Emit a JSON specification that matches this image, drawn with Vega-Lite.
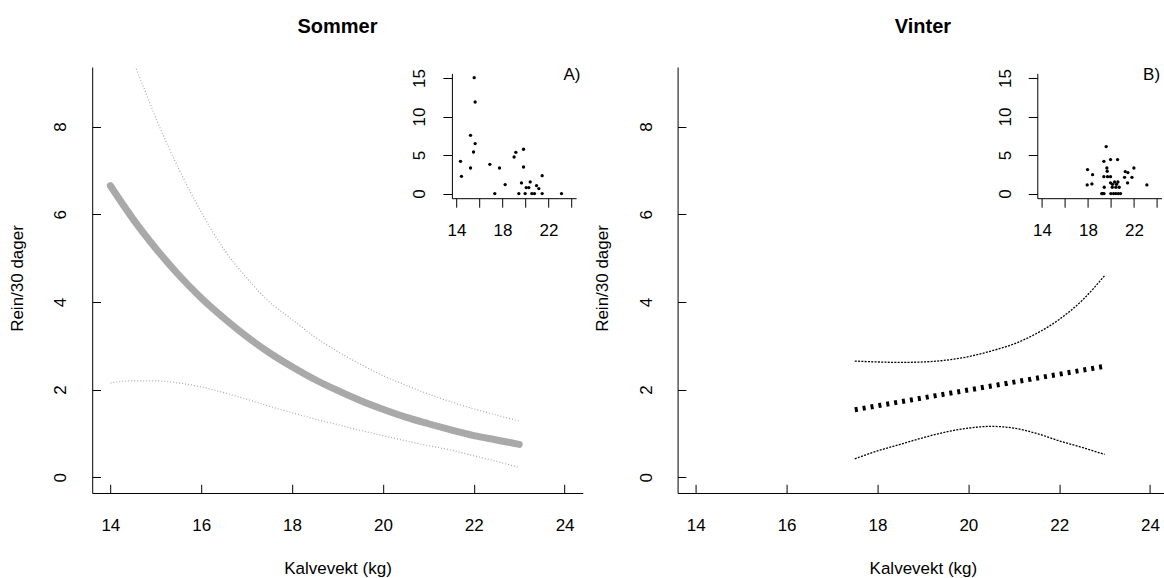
{
  "$schema": "https://vega.github.io/schema/vega-lite/v6.json",
  "background": "white",
  "padding": {"left": 8.2, "top": 16, "right": 0, "bottom": 0},
  "config": {
    "view": {"stroke": null},
    "font": "Liberation Sans",
    "axis": {"grid": false, "domainColor": "black", "tickColor": "black", "labelColor": "black", "titleColor": "black", "labelFont": "Liberation Sans", "titleFont": "Liberation Sans", "labelFontSize": 17, "titleFontSize": 17, "titleFontWeight": "normal", "labelOverlap": false, "labelFlush": false, "labelBound": false, "domainWidth": 1, "tickWidth": 1},
    "title": {"font": "Liberation Sans", "fontSize": 20, "fontWeight": "bold", "color": "black", "offset": 29.4, "baseline": "middle", "frame": "group", "anchor": "middle"}
  },
  "datasets": {
    "s_fit": [
      {"x": 14, "y": 6.65}, {"x": 14.5, "y": 5.89}, {"x": 15, "y": 5.22}, {"x": 15.5, "y": 4.62}, {"x": 16, "y": 4.09}, {"x": 16.5, "y": 3.63}, {"x": 17, "y": 3.21}, {"x": 17.5, "y": 2.84}, {"x": 18, "y": 2.52}, {"x": 18.5, "y": 2.23}, {"x": 19, "y": 1.98}, {"x": 19.5, "y": 1.75}, {"x": 20, "y": 1.55}, {"x": 20.5, "y": 1.37}, {"x": 21, "y": 1.22}, {"x": 21.5, "y": 1.08}, {"x": 22, "y": 0.95}, {"x": 22.5, "y": 0.85}, {"x": 23, "y": 0.75}
    ],
    "s_ci": [
      {"band": "upper", "x": 14, "y": 11.0}, {"band": "upper", "x": 14.25, "y": 10.2}, {"band": "upper", "x": 14.5, "y": 9.5}, {"band": "upper", "x": 14.75, "y": 8.85}, {"band": "upper", "x": 15, "y": 8.2}, {"band": "upper", "x": 15.5, "y": 7.05}, {"band": "upper", "x": 16, "y": 6.05}, {"band": "upper", "x": 16.5, "y": 5.2}, {"band": "upper", "x": 17, "y": 4.55}, {"band": "upper", "x": 17.5, "y": 4.0}, {"band": "upper", "x": 18, "y": 3.6}, {"band": "upper", "x": 18.5, "y": 3.2}, {"band": "upper", "x": 19, "y": 2.87}, {"band": "upper", "x": 19.5, "y": 2.58}, {"band": "upper", "x": 20, "y": 2.32}, {"band": "upper", "x": 20.5, "y": 2.1}, {"band": "upper", "x": 21, "y": 1.9}, {"band": "upper", "x": 21.5, "y": 1.72}, {"band": "upper", "x": 22, "y": 1.56}, {"band": "upper", "x": 22.5, "y": 1.42}, {"band": "upper", "x": 23, "y": 1.28},
      {"band": "lower", "x": 14, "y": 2.15}, {"band": "lower", "x": 14.5, "y": 2.2}, {"band": "lower", "x": 15, "y": 2.2}, {"band": "lower", "x": 15.5, "y": 2.15}, {"band": "lower", "x": 16, "y": 2.06}, {"band": "lower", "x": 16.5, "y": 1.93}, {"band": "lower", "x": 17, "y": 1.78}, {"band": "lower", "x": 17.5, "y": 1.62}, {"band": "lower", "x": 18, "y": 1.47}, {"band": "lower", "x": 18.5, "y": 1.33}, {"band": "lower", "x": 19, "y": 1.2}, {"band": "lower", "x": 19.5, "y": 1.07}, {"band": "lower", "x": 20, "y": 0.95}, {"band": "lower", "x": 20.5, "y": 0.83}, {"band": "lower", "x": 21, "y": 0.72}, {"band": "lower", "x": 21.5, "y": 0.62}, {"band": "lower", "x": 22, "y": 0.49}, {"band": "lower", "x": 22.5, "y": 0.36}, {"band": "lower", "x": 23, "y": 0.22}
    ],
    "v_fit": [
      {"x": 17.5, "y": 1.54}, {"x": 18, "y": 1.63}, {"x": 18.5, "y": 1.72}, {"x": 19, "y": 1.81}, {"x": 19.5, "y": 1.9}, {"x": 20, "y": 1.99}, {"x": 20.5, "y": 2.08}, {"x": 21, "y": 2.17}, {"x": 21.5, "y": 2.26}, {"x": 22, "y": 2.35}, {"x": 22.5, "y": 2.44}, {"x": 23, "y": 2.53}
    ],
    "v_ci": [
      {"band": "upper", "x": 17.5, "y": 2.65}, {"band": "upper", "x": 18, "y": 2.63}, {"band": "upper", "x": 18.5, "y": 2.62}, {"band": "upper", "x": 19, "y": 2.63}, {"band": "upper", "x": 19.5, "y": 2.67}, {"band": "upper", "x": 20, "y": 2.75}, {"band": "upper", "x": 20.5, "y": 2.88}, {"band": "upper", "x": 21, "y": 3.04}, {"band": "upper", "x": 21.5, "y": 3.28}, {"band": "upper", "x": 22, "y": 3.6}, {"band": "upper", "x": 22.5, "y": 4.03}, {"band": "upper", "x": 23, "y": 4.6},
      {"band": "lower", "x": 17.5, "y": 0.42}, {"band": "lower", "x": 18, "y": 0.6}, {"band": "lower", "x": 18.5, "y": 0.75}, {"band": "lower", "x": 19, "y": 0.9}, {"band": "lower", "x": 19.5, "y": 1.03}, {"band": "lower", "x": 20, "y": 1.12}, {"band": "lower", "x": 20.5, "y": 1.16}, {"band": "lower", "x": 21, "y": 1.12}, {"band": "lower", "x": 21.5, "y": 1.0}, {"band": "lower", "x": 22, "y": 0.83}, {"band": "lower", "x": 22.5, "y": 0.68}, {"band": "lower", "x": 23, "y": 0.52}
    ],
    "s_pts": [
      {"x": 14.35, "y": 4.19}, {"x": 14.43, "y": 2.24}, {"x": 15.22, "y": 7.56}, {"x": 15.22, "y": 3.32}, {"x": 15.54, "y": 15.05}, {"x": 15.62, "y": 11.89}, {"x": 15.62, "y": 6.49}, {"x": 15.48, "y": 5.4}, {"x": 16.9, "y": 3.8}, {"x": 17.74, "y": 3.32}, {"x": 17.33, "y": 0}, {"x": 18.23, "y": 1.17}, {"x": 19.01, "y": 4.75}, {"x": 19.16, "y": 5.36}, {"x": 19.83, "y": 5.75}, {"x": 19.83, "y": 3.45}, {"x": 19.42, "y": 0}, {"x": 19.65, "y": 1.38}, {"x": 19.97, "y": 0}, {"x": 20.06, "y": 0.78}, {"x": 20.29, "y": 0.78}, {"x": 20.41, "y": 1.51}, {"x": 20.55, "y": 0}, {"x": 20.78, "y": 0}, {"x": 20.96, "y": 1.04}, {"x": 21.16, "y": 0.65}, {"x": 21.45, "y": 2.33}, {"x": 21.45, "y": 0}, {"x": 23.13, "y": 0}
    ],
    "v_pts": [
      {"x": 17.97, "y": 3.11}, {"x": 17.94, "y": 1.12}, {"x": 18.41, "y": 2.46}, {"x": 18.35, "y": 1.25}, {"x": 19.59, "y": 6.1}, {"x": 19.39, "y": 4.19}, {"x": 19.97, "y": 4.41}, {"x": 20.58, "y": 4.41}, {"x": 19.65, "y": 3.32}, {"x": 19.68, "y": 2.9}, {"x": 19.39, "y": 2.2}, {"x": 19.71, "y": 2.2}, {"x": 19.97, "y": 2.2}, {"x": 19.42, "y": 0.82}, {"x": 19.2, "y": 0}, {"x": 19.3, "y": 0}, {"x": 19.4, "y": 0}, {"x": 19.97, "y": 1.4}, {"x": 20.14, "y": 1.2}, {"x": 20.32, "y": 1.5}, {"x": 20.49, "y": 1.2}, {"x": 20.61, "y": 1.5}, {"x": 20.12, "y": 0.82}, {"x": 20.43, "y": 0.82}, {"x": 20.72, "y": 0.82}, {"x": 20.0, "y": 0}, {"x": 20.23, "y": 0}, {"x": 20.43, "y": 0}, {"x": 20.64, "y": 0}, {"x": 20.84, "y": 0}, {"x": 21.25, "y": 2.85}, {"x": 21.48, "y": 2.73}, {"x": 21.19, "y": 2.11}, {"x": 21.45, "y": 1.38}, {"x": 21.83, "y": 2.11}, {"x": 22.0, "y": 3.32}, {"x": 23.13, "y": 1.12}
    ]
  },
  "hconcat": [
    {
      "width": 490.6,
      "height": 426,
      "title": {"text": "Sommer"},
      "layer": [
        {
          "layer": [
            {
              "data": {"name": "s_ci"},
              "mark": {"type": "line", "color": "#a9a9a9", "strokeWidth": 1.2, "strokeDash": [1, 2], "clip": true, "interpolate": "monotone"},
              "encoding": {
                "x": {"field": "x", "type": "quantitative", "title": "Kalvevekt (kg)", "scale": {"domain": [13.6, 24.4], "nice": false, "zero": false},
                  "axis": {"orient": "bottom", "values": [14, 16, 18, 20, 22, 24], "tickSize": -8.7, "labelPadding": 41.5, "labelBaseline": "middle", "labelAlign": "center", "titleX": 245.3, "titleY": 75.8, "titleAlign": "center", "titleBaseline": "middle"}},
                "y": {"field": "y", "type": "quantitative", "title": "Rein/30 dager", "scale": {"domain": [-0.36, 9.36], "nice": false, "zero": false},
                  "axis": {"orient": "left", "values": [0, 2, 4, 6, 8], "tickSize": -8.3, "labelPadding": 39.8, "labelAngle": 270, "labelAlign": "center", "labelBaseline": "middle", "titleX": -75, "titleY": 211, "titleAngle": 270, "titleAlign": "center", "titleBaseline": "middle"}},
                "detail": {"field": "band"}
              }
            },
            {
              "data": {"name": "s_fit"},
              "mark": {"type": "line", "color": "#a9a9a9", "strokeWidth": 7, "strokeCap": "round", "interpolate": "monotone"},
              "encoding": {
                "x": {"field": "x", "type": "quantitative", "title": "Kalvevekt (kg)"},
                "y": {"field": "y", "type": "quantitative", "title": "Rein/30 dager"}
              }
            },
            {
              "data": {"values": [{}]},
              "mark": {"type": "text", "text": "A)", "align": "right", "baseline": "middle", "fontSize": 17, "font": "Liberation Sans", "color": "black"},
              "encoding": {
                "x": {"datum": 24.35, "type": "quantitative", "title": "Kalvevekt (kg)"},
                "y": {"datum": 9.17, "type": "quantitative", "title": "Rein/30 dager"}
              }
            }
          ]
        },
        {
          "data": {"name": "s_pts"},
          "mark": {"type": "circle", "size": 11, "color": "black", "opacity": 1},
          "encoding": {
            "x": {"field": "x", "type": "quantitative", "scale": {"domain": [13.6, 24.4], "range": [359.7, 483.9], "nice": false, "zero": false},
              "axis": {"orient": "bottom", "offset": -294.8, "title": null, "values": [14, 16, 18, 20, 22, 24], "tickSize": 9, "labelPadding": 23, "labelBaseline": "middle", "labelAlign": "center", "labelExpr": "datum.value % 4 == 2 ? datum.label : ''"}},
            "y": {"field": "y", "type": "quantitative", "scale": {"domain": [-0.6, 15.6], "range": [131.2, 6.4], "nice": false, "zero": false},
              "axis": {"orient": "left", "offset": -359.7, "title": null, "values": [0, 5, 10, 15], "tickSize": 9, "labelPadding": 23, "labelAngle": 270, "labelAlign": "center", "labelBaseline": "middle"}}
          }
        }
      ],
      "resolve": {"scale": {"x": "independent", "y": "independent"}, "axis": {"x": "independent", "y": "independent"}}
    },
    {
      "width": 486.8,
      "height": 426,
      "title": {"text": "Vinter", "dx": 1.9},
      "layer": [
        {
          "layer": [
            {
              "data": {"name": "v_ci"},
              "mark": {"type": "line", "color": "black", "strokeWidth": 1.3, "strokeDash": [2, 1.3], "clip": true, "interpolate": "monotone"},
              "encoding": {
                "x": {"field": "x", "type": "quantitative", "title": "Kalvevekt (kg)", "scale": {"domain": [13.6, 24.315], "nice": false, "zero": false},
                  "axis": {"orient": "bottom", "values": [14, 16, 18, 20, 22, 24], "tickSize": -8.7, "labelPadding": 41.5, "labelBaseline": "middle", "labelAlign": "center", "titleX": 245.3, "titleY": 75.8, "titleAlign": "center", "titleBaseline": "middle"}},
                "y": {"field": "y", "type": "quantitative", "title": "Rein/30 dager", "scale": {"domain": [-0.36, 9.36], "nice": false, "zero": false},
                  "axis": {"orient": "left", "values": [0, 2, 4, 6, 8], "tickSize": -8.3, "labelPadding": 39.8, "labelAngle": 270, "labelAlign": "center", "labelBaseline": "middle", "titleX": -75, "titleY": 211, "titleAngle": 270, "titleAlign": "center", "titleBaseline": "middle"}},
                "detail": {"field": "band"}
              }
            },
            {
              "data": {"name": "v_fit"},
              "mark": {"type": "line", "color": "black", "strokeWidth": 5, "strokeDash": [3, 5], "interpolate": "monotone"},
              "encoding": {
                "x": {"field": "x", "type": "quantitative", "title": "Kalvevekt (kg)"},
                "y": {"field": "y", "type": "quantitative", "title": "Rein/30 dager"}
              }
            },
            {
              "data": {"values": [{}]},
              "mark": {"type": "text", "text": "B)", "align": "right", "baseline": "middle", "fontSize": 17, "font": "Liberation Sans", "color": "black"},
              "encoding": {
                "x": {"datum": 24.22, "type": "quantitative", "title": "Kalvevekt (kg)"},
                "y": {"datum": 9.17, "type": "quantitative", "title": "Rein/30 dager"}
              }
            }
          ]
        },
        {
          "data": {"name": "v_pts"},
          "mark": {"type": "circle", "size": 11, "color": "black", "opacity": 1},
          "encoding": {
            "x": {"field": "x", "type": "quantitative", "scale": {"domain": [13.6, 24.4], "range": [359.7, 483.9], "nice": false, "zero": false},
              "axis": {"orient": "bottom", "offset": -294.8, "title": null, "values": [14, 16, 18, 20, 22, 24], "tickSize": 9, "labelPadding": 23, "labelBaseline": "middle", "labelAlign": "center", "labelExpr": "datum.value % 4 == 2 ? datum.label : ''"}},
            "y": {"field": "y", "type": "quantitative", "scale": {"domain": [-0.6, 15.6], "range": [131.2, 6.4], "nice": false, "zero": false},
              "axis": {"orient": "left", "offset": -359.7, "title": null, "values": [0, 5, 10, 15], "tickSize": 9, "labelPadding": 23, "labelAngle": 270, "labelAlign": "center", "labelBaseline": "middle"}}
          }
        }
      ],
      "resolve": {"scale": {"x": "independent", "y": "independent"}, "axis": {"x": "independent", "y": "independent"}}
    }
  ],
  "spacing": 94.4,
  "bounds": "flush"
}
